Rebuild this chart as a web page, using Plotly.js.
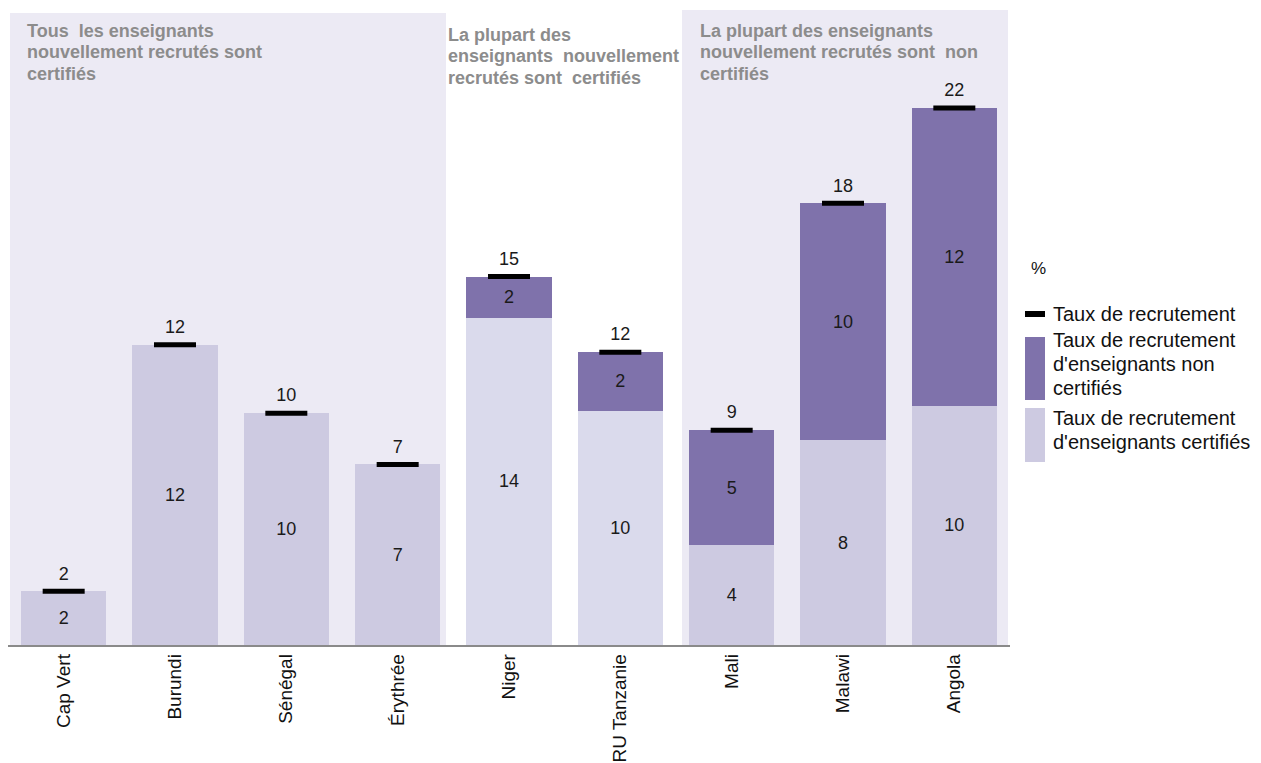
<!DOCTYPE html>
<html>
<head>
<meta charset="utf-8">
<script src="https://cdn.plot.ly/plotly-3.0.1.min.js"></script>
<style>html,body{margin:0;padding:0;background:#fff;}#chart{width:1261px;height:763px;}</style>
</head>
<body>
<div id="chart"></div>
<script>
// ---- data ----
var countries = ["Cap Vert", "Burundi", "Sénégal", "Érythrée", "Niger", "RU Tanzanie", "Mali", "Malawi", "Angola"];
var certified = [2.2, 12.3, 9.5, 7.4, 13.4, 9.6, 4.1, 8.4, 9.8];
var nonCertified = [0, 0, 0, 0, 1.7, 2.4, 4.7, 9.7, 12.2];
var certifiedLabels = ["2", "12", "10", "7", "14", "10", "4", "8", "10"];
var nonCertifiedLabels = ["", "", "", "", "2", "2", "5", "10", "12"];
var totalLabels = ["2", "12", "10", "7", "15", "12", "9", "18", "22"];
var groupTitles = [
  "Tous  les enseignants<br>nouvellement recrutés sont<br>certifiés",
  "La plupart des<br>enseignants  nouvellement<br>recrutés sont  certifiés",
  "La plupart des enseignants<br>nouvellement recrutés sont  non<br>certifiés"
];
var unitLabel = "%";
var legendLabels = [
  "Taux de recrutement",
  "Taux de recrutement<br>d'enseignants non<br>certifiés",
  "Taux de recrutement<br>d'enseignants certifiés"
];

// ---- styles ----
var FONT = "Liberation Sans, Arial, sans-serif";
var COL_CERT = "#cdcae1", COL_NON = "#7f72ab", COL_BG = "#eceaf4";
var certColors = ["#cdcae1","#cdcae1","#cdcae1","#cdcae1","#dadaec","#dadaec","#cdcae1","#cdcae1","#cdcae1"];

var totals = certified.map(function(v, i){ return v + nonCertified[i]; });

var L = 8, R = 251, T = 10, B = 118, W = 1261, H = 763;
var PW = W - L - R, PH = H - T - B;
function px(x){ return (x - L) / PW; }
function py(y){ return (H - B - y) / PH; }

var numFont = {size: 18, color: "#1a1a1a", family: FONT};

var traces = [
  {
    type: "bar", x: countries, y: certified, name: "certifiés",
    marker: {color: certColors}, text: certifiedLabels,
    textposition: "inside", insidetextanchor: "middle", constraintext: "none",
    textfont: numFont, hoverinfo: "x+y"
  },
  {
    type: "bar", x: countries, y: nonCertified, name: "non certifiés",
    marker: {color: COL_NON}, text: nonCertifiedLabels,
    textposition: "inside", insidetextanchor: "middle", constraintext: "none",
    textfont: numFont, hoverinfo: "x+y"
  },
  {
    type: "scatter", mode: "markers", x: countries, y: totals, name: "Taux de recrutement",
    marker: {symbol: "line-ew", size: 30, line: {width: 5, color: "#000"}},
    cliponaxis: false, hoverinfo: "x+y"
  },
  {
    type: "scatter", mode: "markers+text", x: countries, y: totals, name: "labels",
    marker: {size: 10, color: "rgba(0,0,0,0)", line: {width: 0}},
    text: totalLabels, textposition: "top center",
    textfont: numFont, cliponaxis: false, hoverinfo: "skip"
  }
];

var shapes = [
  {type: "rect", xref: "paper", yref: "paper", x0: px(10), x1: px(446), y0: py(645), y1: py(13), fillcolor: COL_BG, line: {width: 0}, layer: "below"},
  {type: "rect", xref: "paper", yref: "paper", x0: px(682), x1: px(1008), y0: py(645), y1: py(10), fillcolor: COL_BG, line: {width: 0}, layer: "below"},
  // legend symbols
  {type: "rect", xref: "paper", yref: "paper", x0: px(1025), x1: px(1045), y0: py(317), y1: py(311), fillcolor: "#000", line: {width: 0}},
  {type: "rect", xref: "paper", yref: "paper", x0: px(1025), x1: px(1045), y0: py(400), y1: py(337), fillcolor: COL_NON, line: {width: 0}},
  {type: "rect", xref: "paper", yref: "paper", x0: px(1025), x1: px(1045), y0: py(462), y1: py(408), fillcolor: COL_CERT, line: {width: 0}}
];

var annotations = [];
function addLines(text, xPix, firstCenter, spacing, font, bold) {
  text.split("<br>").forEach(function(line, i){
    annotations.push({
      xref: "paper", yref: "paper", x: px(xPix), y: py(firstCenter + i * spacing),
      xanchor: "left", yanchor: "middle", align: "left", showarrow: false,
      text: bold ? "<b>" + line + "</b>" : line, font: font
    });
  });
}
var titleFont = {size: 18, color: "#8c8c8c", family: FONT};
addLines(groupTitles[0], 25, 31, 21.3, titleFont, true);
addLines(groupTitles[1], 446, 35, 21.3, titleFont, true);
addLines(groupTitles[2], 698, 31, 21.3, titleFont, true);
var legFont = {size: 20, color: "#111", family: FONT};
addLines(unitLabel, 1029, 268, 24, {size: 17, color: "#111", family: FONT}, false);
addLines(legendLabels[0], 1051, 314, 24, legFont, false);
addLines(legendLabels[1], 1051, 340, 24, legFont, false);
addLines(legendLabels[2], 1051, 418, 24, legFont, false);

var layout = {
  width: W, height: H,
  margin: {l: L, r: R, t: T, b: B, pad: 0},
  paper_bgcolor: "#fff", plot_bgcolor: "rgba(0,0,0,0)",
  barmode: "stack", bargap: 0.236,
  showlegend: false,
  font: {family: FONT, color: "#111"},
  xaxis: {
    type: "category", range: [-0.5, 8.5], tickangle: -90,
    tickfont: {size: 19, color: "#111", family: FONT},
    showline: true, linecolor: "#8a8a8a", linewidth: 1.5,
    ticks: "", showgrid: false, zeroline: false, fixedrange: true
  },
  yaxis: {range: [0, 26.02], visible: false, showgrid: false, zeroline: false, fixedrange: true},
  shapes: shapes,
  annotations: annotations
};

Plotly.newPlot("chart", traces, layout, {displayModeBar: false, staticPlot: true});
</script>
</body>
</html>
